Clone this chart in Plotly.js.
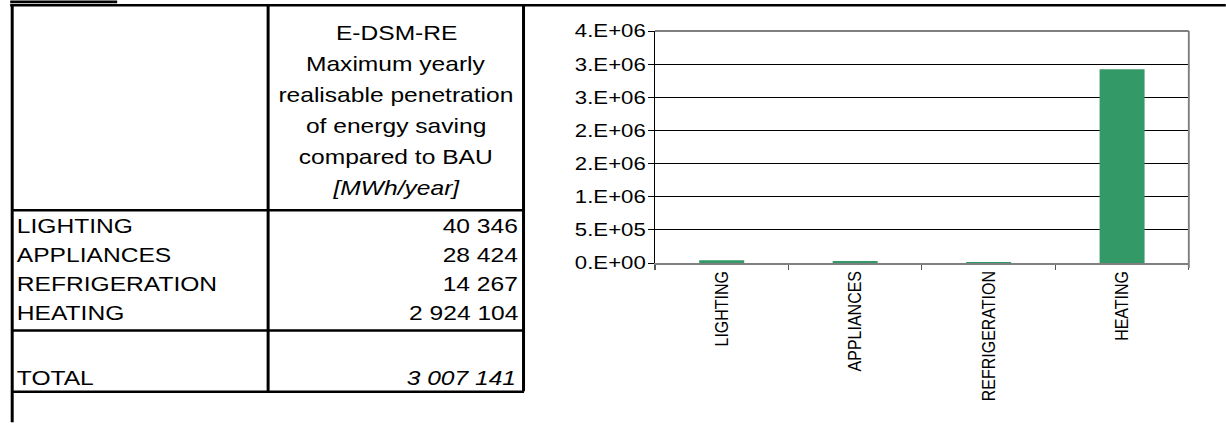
<!DOCTYPE html>
<html>
<head>
<meta charset="utf-8">
<script src="https://cdn.plot.ly/plotly-3.0.1.min.js"></script>
<style>
  html, body { margin: 0; padding: 0; background: #fff; overflow: hidden; }
  #wrap { width: 1226px; height: 423px; overflow: hidden; position: relative; }
  #chart { position: absolute; left: 0; top: 0; transform-origin: 0 0; }
</style>
</head>
<body>
<div id="wrap"><div id="chart"></div></div>
<script>
// ---- data ----
const categories = ['LIGHTING', 'APPLIANCES', 'REFRIGERATION', 'HEATING'];
const savings = [40346, 28424, 14267, 2924104];
const totalLabel = 'TOTAL';
const totalValue = 3007141;
const headerLines = ['E-DSM-RE', 'Maximum yearly', 'realisable penetration',
                     'of energy saving', 'compared to BAU', '<i>[MWh/year]</i>'];
const yTickVals = [0, 500000, 1000000, 1500000, 2000000, 2500000, 3000000, 3500000];
const yTickText = ['0.E+00', '5.E+05', '1.E+06', '2.E+06', '2.E+06', '3.E+06', '3.E+06', '4.E+06'];

// ---- geometry (reference pixels) ----
const FULL_W = 1226, H = 423;
const S = 1.2;                       // horizontal stretch of the reference
const W = Math.round(FULL_W / S);
const sx = FULL_W / W;
const PL = 655, PR = 1189, PT = 30.7, PB = 263.3;
const xp = px => (px - PL) / (PR - PL);
const yp = py => (PB - py) / (PB - PT);
const FONT = '"Liberation Sans", Arial, sans-serif';

function fmt(n) { return String(n).replace(/\B(?=(\d{3})+(?!\d))/g, ' '); }

const shapes = [];
function hline(y, x0, x1, w) {
  shapes.push({type: 'line', xref: 'paper', yref: 'paper', x0: xp(x0), x1: xp(x1), y0: yp(y), y1: yp(y),
               line: {color: '#000', width: w}});
}
function vline(x, y0, y1, w, c) {
  shapes.push({type: 'line', xref: 'paper', yref: 'paper', x0: xp(x), x1: xp(x), y0: yp(y0), y1: yp(y1),
               line: {color: c || '#000', width: w}});
}
// small bar at top-left
shapes.push({type: 'rect', xref: 'paper', yref: 'paper', x0: xp(10), x1: xp(117), y0: yp(0), y1: yp(3),
             fillcolor: '#000', line: {width: 0}});
hline(5, 10, 1226, 2.5);
vline(12, 4, 423, 2.5);
vline(268, 5, 392, 2.5);
vline(523.5, 5, 392, 2.5);
hline(210.5, 12, 524, 2.5);
hline(331, 12, 524, 2.5);
hline(392.5, 12, 524, 2.5);
// plot frame: top black, right gray
hline(PT, PL, PR, 1);
vline(PR, PT, PB + 5, 1.6, '#808080');

const annotations = [];
function txt(text, x, y, anchor, size, italic) {
  annotations.push({text: italic ? '<i>' + text + '</i>' : text, xref: 'paper', yref: 'paper',
    x: xp(x), y: yp(y), xanchor: anchor, yanchor: 'middle', showarrow: false,
    borderpad: 0, borderwidth: 0, font: {family: FONT, size: size, color: '#000'}});
}
const TF = 20.5;
const headerY = [32, 63.5, 94.5, 125.5, 157, 188];
headerLines.forEach((t, i) => txt(t, 396, headerY[i], 'center', TF));
const rowY = [226, 255, 284, 313];
categories.forEach((c, i) => {
  txt(c, 16, rowY[i], 'left', TF);
  txt(fmt(savings[i]), 518, rowY[i], 'right', TF);
});
txt(totalLabel, 16, 378, 'left', TF);
txt(fmt(totalValue), 516, 378, 'right', TF, true);

const data = [{
  type: 'bar', x: categories, y: savings,
  marker: {color: '#339966', line: {width: 0}},
  hoverinfo: 'skip'
}];

const layout = {
  width: W, height: H,
  margin: {l: PL / sx, r: W - PR / sx, t: PT, b: H - PB, pad: 0},
  paper_bgcolor: '#fff', plot_bgcolor: '#fff',
  showlegend: false,
  bargap: 0.663,
  font: {family: FONT, color: '#000'},
  xaxis: {
    type: 'category', tickson: 'boundaries', ticks: 'outside', ticklen: 5, tickcolor: '#555', tickwidth: 1,
    tickangle: -90, tickfont: {family: FONT, size: 16, color: '#000'},
    showline: true, linecolor: '#808080', linewidth: 1.6, showgrid: false, zeroline: false,
    fixedrange: true
  },
  yaxis: {
    range: [0, 3500000], tickvals: yTickVals, ticktext: yTickText,
    ticks: 'outside', ticklen: 5, tickcolor: '#000', tickwidth: 1,
    ticklabelstandoff: -2,
    tickfont: {family: FONT, size: 18.5, color: '#000'},
    showline: true, linecolor: '#000', linewidth: 1,
    showgrid: true, gridcolor: '#000', gridwidth: 1, zeroline: false,
    fixedrange: true
  },
  shapes: shapes,
  annotations: annotations
};

const el = document.getElementById('chart');
el.style.transform = 'scaleX(' + sx + ')';
Plotly.newPlot(el, data, layout, {staticPlot: true, displayModeBar: false});
</script>
</body>
</html>
